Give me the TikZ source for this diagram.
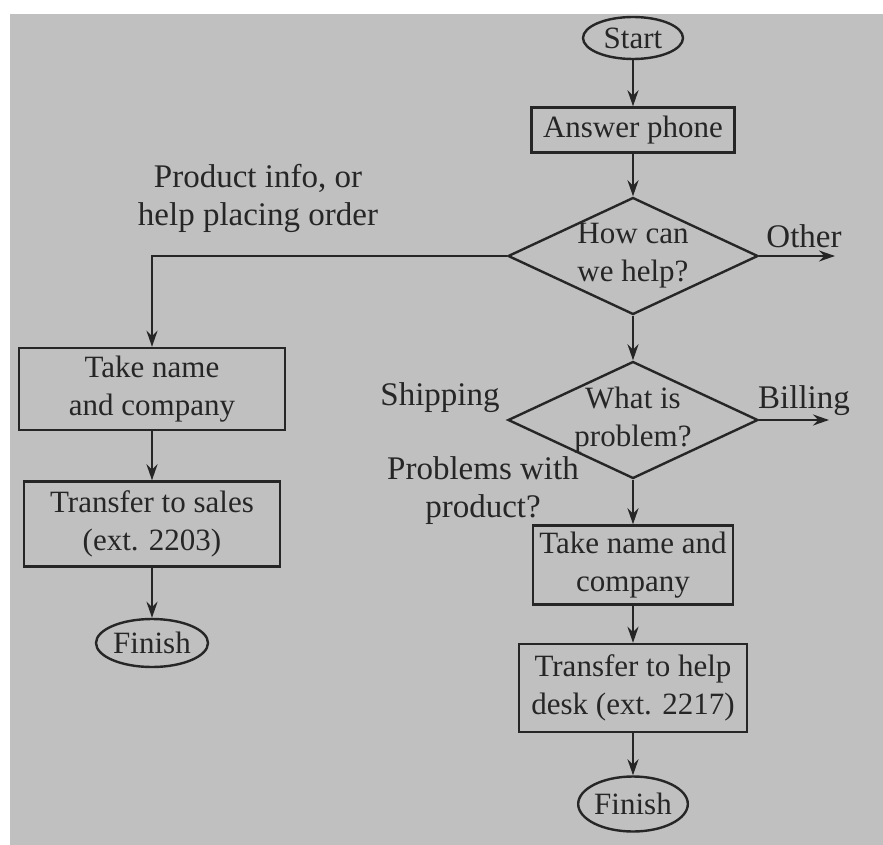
\documentclass[tikz,border=0pt]{standalone}
\usepackage{fontspec}
\setmainfont{Liberation Serif}
\usetikzlibrary{shapes.geometric,arrows.meta}
\definecolor{paper}{RGB}{192,192,192}
\definecolor{ink}{RGB}{38,38,38}

\begin{document}
\begin{tikzpicture}[x=1pt,y=-1pt,
  every node/.style={font=\fontsize{31}{38}\selectfont,text=ink,align=center},
  lbl/.style={font=\fontsize{33}{38}\selectfont},
  box/.style={draw=ink,line width=2.4pt,rectangle,inner sep=4pt},
  term/.style={draw=ink,line width=2.4pt,ellipse,inner sep=0pt},
  decision/.style={draw=ink,line width=2.4pt,diamond,aspect=2.14,inner sep=-3pt,
    minimum width=250pt,minimum height=117pt},
  flow/.style={draw=ink,line width=2.4pt,-{Stealth[length=16pt,width=11pt]}}]

% Paper
\fill[white] (0,0) rectangle (883,845);
\fill[paper] (10,14) rectangle (883,845);
\useasboundingbox (0,0) rectangle (883,845);

% Main column
\node[term,minimum width=100pt,minimum height=42pt] (start) at (633,38) {Start};
\node[box,minimum width=203pt,minimum height=45pt] (answer) at (633,130) {Answer phone};
\node[decision] (help) at (633,256) {How can\\we help?};
\node[decision] (problem) at (633,420) {What is\\problem?};
\node[box,minimum width=200pt,minimum height=79pt] (nameR) at (633,565) {Take name and\\company};
\node[box,minimum width=228pt,minimum height=88pt] (deskR) at (633,688) {Transfer to help\\desk (ext. 2217)};
\node[term,minimum width=98pt,minimum height=55pt] (finishR) at (633,804) {Finish};

% Sales column
\node[box,minimum width=266pt,minimum height=82pt] (nameL) at (152,389) {Take name\\and company};
\node[box,minimum width=256pt,minimum height=85pt] (salesL) at (152,524) {Transfer to sales\\(ext. 2203)};
\node[term,minimum width=112pt,minimum height=48pt] (finishL) at (152,643) {Finish};

% Branch labels
\node[lbl] (infoLbl) at (258,198) {Product info, or\\help placing order};
\node[lbl] (otherLbl) at (804,236) {Other};
\node[lbl] (shipLbl) at (440,398) {Shipping};
\node[lbl] (prodLbl) at (483,491) {Problems with\\product?};
\node[lbl] (billLbl) at (804,401) {Billing};

% Free ends
\coordinate (otherEnd) at (835,256);
\coordinate (billEnd) at (829,420);

% Flow
\draw[flow] (start) -- (answer);
\draw[flow] (answer) -- (help);
\draw[flow] (help) -- (problem);
\draw[flow] (problem) -- (nameR);
\draw[flow] (nameR) -- (deskR);
\draw[flow] (deskR) -- (finishR);
\draw[flow] (help.east) -- (otherEnd);
\draw[flow] (problem.east) -- (billEnd);
\draw[flow] (help.west) -| (nameL);
\draw[flow] (nameL) -- (salesL);
\draw[flow] (salesL) -- (finishL);

\end{tikzpicture}
\end{document}
